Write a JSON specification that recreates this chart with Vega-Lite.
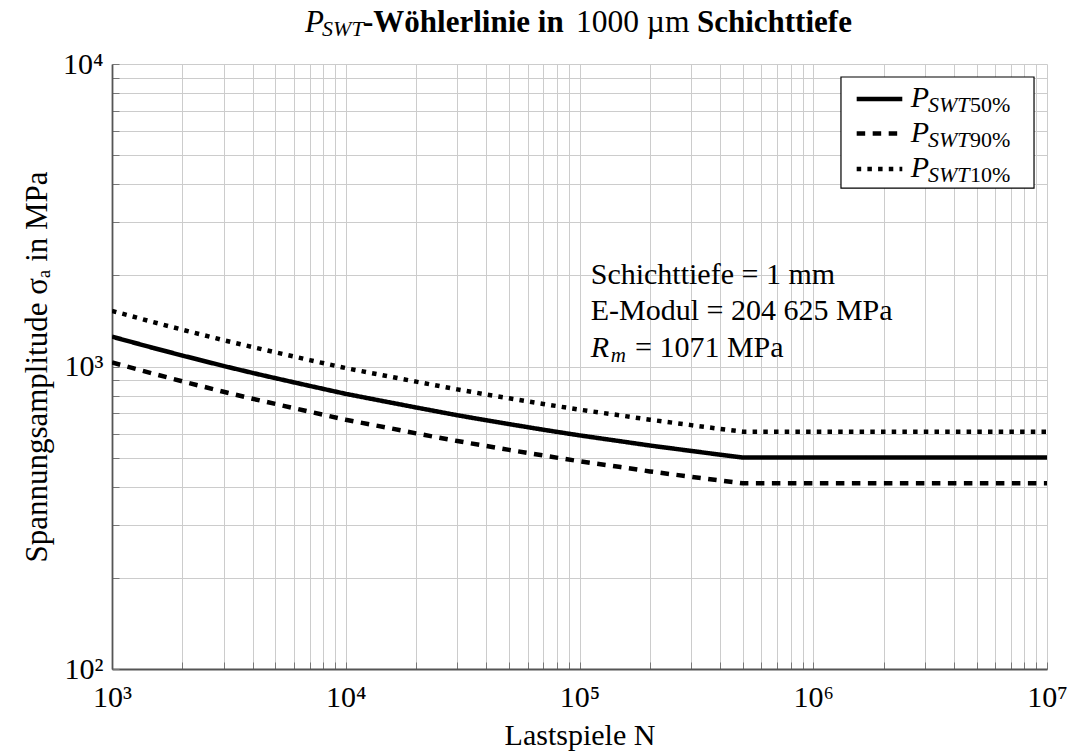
{
  "$schema": "https://vega.github.io/schema/vega-lite/v6.json",
  "width": 935,
  "height": 605,
  "autosize": {"type": "none"},
  "padding": {"left": 112, "top": 64, "right": 23, "bottom": 86},
  "background": "white",
  "config": {"font": "Liberation Serif", "view": {"stroke": null}},
  "layer": [
    {
      "data": {
        "values": [
          {"kurve": "P_SWT50%", "N": 1000, "sigma": 1255},
          {"kurve": "P_SWT50%", "N": 1500, "sigma": 1152},
          {"kurve": "P_SWT50%", "N": 2000, "sigma": 1087},
          {"kurve": "P_SWT50%", "N": 3000, "sigma": 1004},
          {"kurve": "P_SWT50%", "N": 4000, "sigma": 952},
          {"kurve": "P_SWT50%", "N": 5000, "sigma": 915},
          {"kurve": "P_SWT50%", "N": 7000, "sigma": 863},
          {"kurve": "P_SWT50%", "N": 10000, "sigma": 812},
          {"kurve": "P_SWT50%", "N": 15000, "sigma": 764},
          {"kurve": "P_SWT50%", "N": 20000, "sigma": 732},
          {"kurve": "P_SWT50%", "N": 30000, "sigma": 690},
          {"kurve": "P_SWT50%", "N": 40000, "sigma": 664},
          {"kurve": "P_SWT50%", "N": 50000, "sigma": 645},
          {"kurve": "P_SWT50%", "N": 70000, "sigma": 618},
          {"kurve": "P_SWT50%", "N": 100000, "sigma": 592},
          {"kurve": "P_SWT50%", "N": 150000, "sigma": 566},
          {"kurve": "P_SWT50%", "N": 200000, "sigma": 548},
          {"kurve": "P_SWT50%", "N": 300000, "sigma": 526},
          {"kurve": "P_SWT50%", "N": 400000, "sigma": 511},
          {"kurve": "P_SWT50%", "N": 500000, "sigma": 500},
          {"kurve": "P_SWT50%", "N": 10000000, "sigma": 500},
          {"kurve": "P_SWT90%", "N": 1000, "sigma": 1031},
          {"kurve": "P_SWT90%", "N": 1500, "sigma": 947},
          {"kurve": "P_SWT90%", "N": 2000, "sigma": 893},
          {"kurve": "P_SWT90%", "N": 3000, "sigma": 825},
          {"kurve": "P_SWT90%", "N": 4000, "sigma": 782},
          {"kurve": "P_SWT90%", "N": 5000, "sigma": 752},
          {"kurve": "P_SWT90%", "N": 7000, "sigma": 709},
          {"kurve": "P_SWT90%", "N": 10000, "sigma": 667},
          {"kurve": "P_SWT90%", "N": 15000, "sigma": 628},
          {"kurve": "P_SWT90%", "N": 20000, "sigma": 601},
          {"kurve": "P_SWT90%", "N": 30000, "sigma": 567},
          {"kurve": "P_SWT90%", "N": 40000, "sigma": 546},
          {"kurve": "P_SWT90%", "N": 50000, "sigma": 530},
          {"kurve": "P_SWT90%", "N": 70000, "sigma": 508},
          {"kurve": "P_SWT90%", "N": 100000, "sigma": 486},
          {"kurve": "P_SWT90%", "N": 150000, "sigma": 465},
          {"kurve": "P_SWT90%", "N": 200000, "sigma": 450},
          {"kurve": "P_SWT90%", "N": 300000, "sigma": 432},
          {"kurve": "P_SWT90%", "N": 400000, "sigma": 420},
          {"kurve": "P_SWT90%", "N": 500000, "sigma": 411},
          {"kurve": "P_SWT90%", "N": 10000000, "sigma": 411},
          {"kurve": "P_SWT10%", "N": 1000, "sigma": 1527},
          {"kurve": "P_SWT10%", "N": 1500, "sigma": 1402},
          {"kurve": "P_SWT10%", "N": 2000, "sigma": 1323},
          {"kurve": "P_SWT10%", "N": 3000, "sigma": 1222},
          {"kurve": "P_SWT10%", "N": 4000, "sigma": 1159},
          {"kurve": "P_SWT10%", "N": 5000, "sigma": 1114},
          {"kurve": "P_SWT10%", "N": 7000, "sigma": 1050},
          {"kurve": "P_SWT10%", "N": 10000, "sigma": 988},
          {"kurve": "P_SWT10%", "N": 15000, "sigma": 930},
          {"kurve": "P_SWT10%", "N": 20000, "sigma": 891},
          {"kurve": "P_SWT10%", "N": 30000, "sigma": 840},
          {"kurve": "P_SWT10%", "N": 40000, "sigma": 808},
          {"kurve": "P_SWT10%", "N": 50000, "sigma": 785},
          {"kurve": "P_SWT10%", "N": 70000, "sigma": 752},
          {"kurve": "P_SWT10%", "N": 100000, "sigma": 720},
          {"kurve": "P_SWT10%", "N": 150000, "sigma": 689},
          {"kurve": "P_SWT10%", "N": 200000, "sigma": 667},
          {"kurve": "P_SWT10%", "N": 300000, "sigma": 640},
          {"kurve": "P_SWT10%", "N": 400000, "sigma": 622},
          {"kurve": "P_SWT10%", "N": 500000, "sigma": 609},
          {"kurve": "P_SWT10%", "N": 10000000, "sigma": 609}
        ]
      },
      "mark": {"type": "line", "stroke": "black", "strokeWidth": 4.5, "strokeCap": "butt", "strokeJoin": "round", "clip": true},
      "encoding": {
        "x": {
          "field": "N", "type": "quantitative",
          "scale": {"type": "log", "domain": [1000, 10000000], "nice": false},
          "axis": {
            "values": [1000, 2000, 3000, 4000, 5000, 6000, 7000, 8000, 9000, 10000, 20000, 30000, 40000, 50000, 60000, 70000, 80000, 90000, 100000, 200000, 300000, 400000, 500000, 600000, 700000, 800000, 900000, 1000000, 2000000, 3000000, 4000000, 5000000, 6000000, 7000000, 8000000, 9000000, 10000000],
            "grid": true, "gridColor": "#cccccc", "gridWidth": 1,
            "domainColor": "#555555", "domainWidth": 1.8,
            "tickColor": "#777777", "tickSize": -7, "tickWidth": 1,
            "labelExpr": "datum.value == 1000 ? '10³' : datum.value == 10000 ? '10⁴' : datum.value == 100000 ? '10⁵' : datum.value == 1000000 ? '10⁶' : datum.value == 10000000 ? '10⁷' : ''",
            "labelFont": "Liberation Serif", "labelFontSize": 30, "labelColor": "black",
            "labelPadding": 20, "labelFlush": false, "labelOverlap": false, "labelBound": false,
            "title": "Lastspiele N", "titleFont": "Liberation Serif", "titleFontSize": 30,
            "titleFontWeight": "normal", "titleColor": "black", "titlePadding": 8
          }
        },
        "y": {
          "field": "sigma", "type": "quantitative",
          "scale": {"type": "log", "domain": [100, 10000], "nice": false},
          "axis": {
            "values": [100, 200, 300, 400, 500, 600, 700, 800, 900, 1000, 2000, 3000, 4000, 5000, 6000, 7000, 8000, 9000, 10000],
            "grid": true, "gridColor": "#cccccc", "gridWidth": 1,
            "domainColor": "#555555", "domainWidth": 1.8,
            "tickColor": "#777777", "tickSize": -7, "tickWidth": 1,
            "labelExpr": "datum.value == 100 ? '10²' : datum.value == 1000 ? '10³' : datum.value == 10000 ? '10⁴' : ''",
            "labelFont": "Liberation Serif", "labelFontSize": 30, "labelColor": "black",
            "labelPadding": 16, "labelFlush": false, "labelOverlap": false, "labelBound": false,
            "title": "Spannungsamplitude σₐ in MPa", "titleFont": "Liberation Serif", "titleFontSize": 31,
            "titleFontWeight": "normal", "titleColor": "black", "titlePadding": 9
          }
        },
        "strokeDash": {
          "field": "kurve", "type": "nominal",
          "scale": {"domain": ["P_SWT50%", "P_SWT90%", "P_SWT10%"], "range": [[1, 0], [8.5, 7.5], [4.5, 6.2]]},
          "legend": null
        }
      }
    },
    {
      "data": {"values": [{"t": "Schichttiefe = 1 mm"}]},
      "mark": {"type": "text", "font": "Liberation Serif", "fontSize": 30, "align": "left", "baseline": "alphabetic", "color": "black"},
      "encoding": {
        "x": {"datum": 111660, "type": "quantitative"},
        "y": {"datum": 1870, "type": "quantitative"},
        "text": {"field": "t"}
      }
    },
    {
      "data": {"values": [{"t": "E-Modul = 204 625 MPa"}]},
      "mark": {"type": "text", "font": "Liberation Serif", "fontSize": 30, "align": "left", "baseline": "alphabetic", "color": "black"},
      "encoding": {
        "x": {"datum": 111660, "type": "quantitative"},
        "y": {"datum": 1425, "type": "quantitative"},
        "text": {"field": "t"}
      }
    },
    {
      "data": {"values": [{"t": "R"}]},
      "mark": {"type": "text", "font": "Liberation Serif", "fontStyle": "italic", "fontSize": 30, "align": "left", "baseline": "alphabetic", "color": "black"},
      "encoding": {
        "x": {"datum": 111660, "type": "quantitative"},
        "y": {"datum": 1078, "type": "quantitative"},
        "text": {"field": "t"}
      }
    },
    {
      "data": {"values": [{"t": "m"}]},
      "mark": {"type": "text", "font": "Liberation Serif", "fontStyle": "italic", "fontSize": 21, "align": "left", "baseline": "alphabetic", "color": "black"},
      "encoding": {
        "x": {"datum": 136000, "type": "quantitative"},
        "y": {"datum": 1037, "type": "quantitative"},
        "text": {"field": "t"}
      }
    },
    {
      "data": {"values": [{"t": "= 1071 MPa"}]},
      "mark": {"type": "text", "font": "Liberation Serif", "fontSize": 30, "align": "left", "baseline": "alphabetic", "color": "black"},
      "encoding": {
        "x": {"datum": 172800, "type": "quantitative"},
        "y": {"datum": 1078, "type": "quantitative"},
        "text": {"field": "t"}
      }
    },
    {
      "data": {"values": [{"t": "P"}]},
      "mark": {"type": "text", "font": "Liberation Serif", "fontStyle": "italic", "fontSize": 31, "align": "left", "baseline": "alphabetic", "color": "black"},
      "encoding": {
        "x": {"datum": 6694, "type": "quantitative"},
        "y": {"datum": 12790, "type": "quantitative"},
        "text": {"field": "t"}
      }
    },
    {
      "data": {"values": [{"t": "SWT"}]},
      "mark": {"type": "text", "font": "Liberation Serif", "fontStyle": "italic", "fontSize": 22, "align": "left", "baseline": "alphabetic", "color": "black"},
      "encoding": {
        "x": {"datum": 7920, "type": "quantitative"},
        "y": {"datum": 12380, "type": "quantitative"},
        "text": {"field": "t"}
      }
    },
    {
      "data": {"values": [{"t": "-Wöhlerlinie in"}]},
      "mark": {"type": "text", "font": "Liberation Serif", "fontWeight": "bold", "fontSize": 31, "align": "left", "baseline": "alphabetic", "color": "black"},
      "encoding": {
        "x": {"datum": 11850, "type": "quantitative"},
        "y": {"datum": 12790, "type": "quantitative"},
        "text": {"field": "t"}
      }
    },
    {
      "data": {"values": [{"t": "1000 µm"}]},
      "mark": {"type": "text", "font": "Liberation Serif", "fontSize": 31.5, "align": "left", "baseline": "alphabetic", "color": "black"},
      "encoding": {
        "x": {"datum": 96600, "type": "quantitative"},
        "y": {"datum": 12790, "type": "quantitative"},
        "text": {"field": "t"}
      }
    },
    {
      "data": {"values": [{"t": "Schichttiefe"}]},
      "mark": {"type": "text", "font": "Liberation Serif", "fontWeight": "bold", "fontSize": 31, "align": "left", "baseline": "alphabetic", "color": "black"},
      "encoding": {
        "x": {"datum": 318000, "type": "quantitative"},
        "y": {"datum": 12790, "type": "quantitative"},
        "text": {"field": "t"}
      }
    },
    {
      "data": {"values": [{"t": "box"}]},
      "mark": {"type": "rect", "fill": "white", "stroke": "black", "strokeWidth": 1.2},
      "encoding": {
        "x": {"datum": 1314000, "type": "quantitative"},
        "x2": {"datum": 8800000},
        "y": {"datum": 9057, "type": "quantitative"},
        "y2": {"datum": 3890}
      }
    },
    {
      "data": {"values": [{"kurve": "P_SWT50%"}]},
      "mark": {"type": "rule", "stroke": "black", "strokeWidth": 4.5, "strokeCap": "butt"},
      "encoding": {
        "x": {"datum": 1534000, "type": "quantitative"},
        "x2": {"datum": 2404000},
        "y": {"datum": 7662, "type": "quantitative"}
      }
    },
    {
      "data": {"values": [{"kurve": "P_SWT90%"}]},
      "mark": {"type": "rule", "stroke": "black", "strokeWidth": 4.5, "strokeCap": "butt", "strokeDash": [8.5, 7.5]},
      "encoding": {
        "x": {"datum": 1534000, "type": "quantitative"},
        "x2": {"datum": 2404000},
        "y": {"datum": 5891, "type": "quantitative"}
      }
    },
    {
      "data": {"values": [{"kurve": "P_SWT10%"}]},
      "mark": {"type": "rule", "stroke": "black", "strokeWidth": 4.5, "strokeCap": "butt", "strokeDash": [4.5, 6.2]},
      "encoding": {
        "x": {"datum": 1534000, "type": "quantitative"},
        "x2": {"datum": 2404000},
        "y": {"datum": 4497, "type": "quantitative"}
      }
    },
    {
      "data": {"values": [{"t": "P", "pos": 7210}, {"t": "P", "pos": 5524}, {"t": "P", "pos": 4230}]},
      "mark": {"type": "text", "font": "Liberation Serif", "fontStyle": "italic", "fontSize": 30, "align": "left", "baseline": "alphabetic", "color": "black"},
      "encoding": {
        "x": {"datum": 2612000, "type": "quantitative"},
        "y": {"field": "pos", "type": "quantitative"},
        "text": {"field": "t"}
      }
    },
    {
      "data": {"values": [{"t": "SWT", "pos": 6939}, {"t": "SWT", "pos": 5316}, {"t": "SWT", "pos": 4073}]},
      "mark": {"type": "text", "font": "Liberation Serif", "fontStyle": "italic", "fontSize": 22, "align": "left", "baseline": "alphabetic", "color": "black"},
      "encoding": {
        "x": {"datum": 3097000, "type": "quantitative"},
        "y": {"field": "pos", "type": "quantitative"},
        "text": {"field": "t"}
      }
    },
    {
      "data": {"values": [{"t": "50%", "pos": 6939}, {"t": "90%", "pos": 5316}, {"t": "10%", "pos": 4073}]},
      "mark": {"type": "text", "font": "Liberation Serif", "fontSize": 22, "align": "left", "baseline": "alphabetic", "color": "black"},
      "encoding": {
        "x": {"datum": 4684000, "type": "quantitative"},
        "y": {"field": "pos", "type": "quantitative"},
        "text": {"field": "t"}
      }
    }
  ]
}
